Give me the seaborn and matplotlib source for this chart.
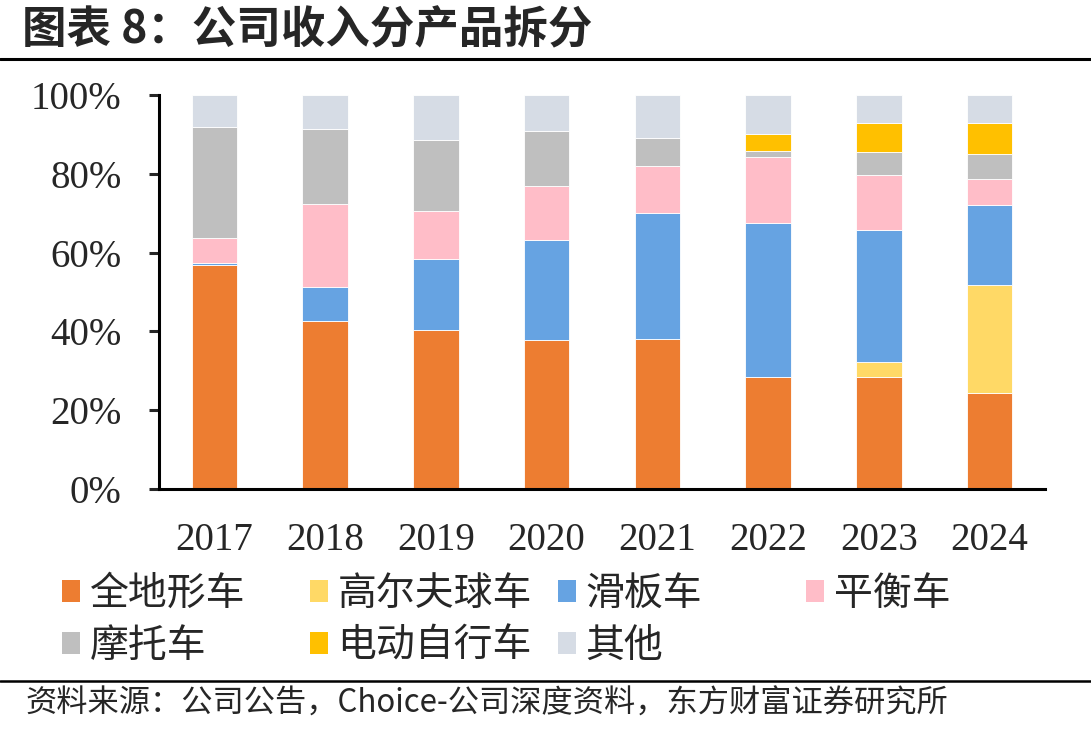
import matplotlib
matplotlib.use('Agg')
import numpy as np
import matplotlib.pyplot as plt
import seaborn as sns
from matplotlib.patches import Patch
from matplotlib.lines import Line2D
from matplotlib.ticker import PercentFormatter

years = ['2017', '2018', '2019', '2020', '2021', '2022', '2023', '2024']
atv = [56.8, 42.7, 40.3, 37.8, 38.2, 28.5, 28.4, 24.3]
golf = [0, 0, 0, 0, 0, 0, 3.8, 27.4]
scooter = [0.6, 8.6, 18.2, 25.5, 31.9, 39.1, 33.6, 20.3]
balance = [6.4, 21.1, 12.1, 13.6, 11.8, 16.7, 13.8, 6.8]
moto = [28.0, 19.0, 18.1, 13.9, 7.3, 1.5, 5.9, 6.3]
ebike = [0, 0, 0, 0, 0, 4.4, 7.5, 7.7]
other = [8.2, 8.6, 11.3, 9.2, 10.8, 9.8, 7.0, 7.2]

names = ['全地形车', '高尔夫球车', '滑板车', '平衡车', '摩托车', '电动自行车', '其他']
series = [atv, golf, scooter, balance, moto, ebike, other]
colors = ['#ED7D31', '#FFD966', '#66A3E2', '#FFBDC8', '#BFBFBF', '#FFC000', '#D6DCE5']

sns.set_style('white')
plt.rcParams['font.family'] = ['Noto Sans CJK SC', 'DejaVu Sans']

fig = plt.figure(figsize=(10.91, 7.35), dpi=100)
ax = fig.add_axes([0.1457, 0.3347, 0.8121, 0.536])

bottom = np.zeros(len(years))
for vals, c in zip(series, colors):
    sns.barplot(x=years, y=vals, color=c, saturation=1, width=0.41,
                errorbar=None, bottom=bottom, edgecolor='white', linewidth=0.6, ax=ax)
    bottom = bottom + np.array(vals)

ax.set_ylim(0, 100)
ax.set_xlim(-0.5, 7.5)
ax.set_yticks([0, 20, 40, 60, 80, 100])
ax.yaxis.set_major_formatter(PercentFormatter(xmax=100, decimals=0))
ax.set_xlabel('')
ax.set_ylabel('')
for s in ['top', 'right']:
    ax.spines[s].set_visible(False)
for s in ['left', 'bottom']:
    ax.spines[s].set_linewidth(2.2)
    ax.spines[s].set_color('black')
ax.tick_params(axis='y', direction='out', length=7, width=2.2, pad=20, left=True)
ax.tick_params(axis='x', length=0, pad=24)
for lab in ax.get_xticklabels() + ax.get_yticklabels():
    lab.set_fontfamily('Liberation Serif')
    lab.set_fontsize(28)

# legend laid out in four columns like the original
cols = [[0, 4], [1, 5], [2, 6], [3]]
col_x = [62, 310, 558, 806]
for idx, x0 in zip(cols, col_x):
    handles = [Patch(facecolor=colors[i], edgecolor='none') for i in idx]
    fig.legend(handles, [names[i] for i in idx], loc='upper left',
               bbox_to_anchor=(x0 / 1091, 1 - 574 / 735), frameon=False,
               fontsize=28, handlelength=0.46, handleheight=0.5,
               handletextpad=0.25, labelspacing=0.3, borderpad=0, borderaxespad=0)

fig.text(22 / 1091, 1 - 30 / 735, '图表 8：公司收入分产品拆分', fontsize=32,
         fontweight='bold', va='center', ha='left')
fig.add_artist(Line2D([0, 1], [1 - 59 / 735] * 2, transform=fig.transFigure, color='black', lw=2.2))
fig.add_artist(Line2D([0, 1], [1 - 681 / 735] * 2, transform=fig.transFigure, color='black', lw=1.8))
fig.text(25 / 1091, 1 - 704 / 735, '资料来源：公司公告，Choice-公司深度资料，东方财富证券研究所',
         fontsize=22.5, va='center', ha='left')

fig.savefig('out.png', dpi=100)
